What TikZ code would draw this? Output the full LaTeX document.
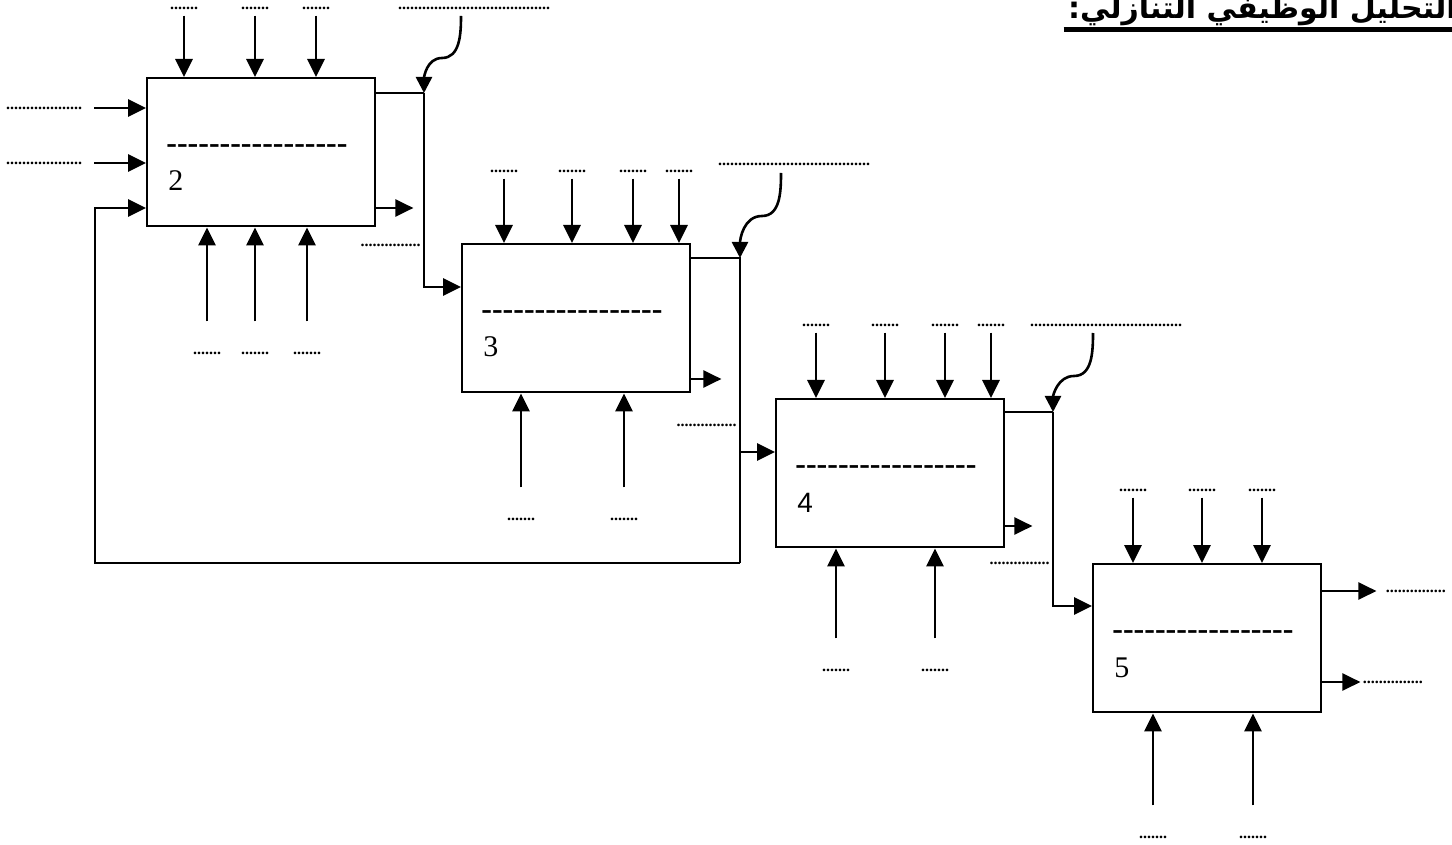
\documentclass[tikz,border=0pt]{standalone}
\usepackage{fontspec}
\setmainfont{Liberation Serif}
\newfontfamily\arabicfont[Script=Arabic]{DejaVu Sans}
\newfontfamily\numsans{Liberation Sans}
\TeXXeTstate=1
\usetikzlibrary{
    arrows.meta,
    positioning,
    calc
}
\tikzset{
  funcbox/.style = {draw, line width=1.2pt, minimum width=114pt,
                    minimum height=74pt, inner sep=0pt, anchor=north west},
  dots/.style    = {inner sep=0pt, font=\fontsize{8}{8}\selectfont\bfseries},
  dashrow/.style = {inner sep=0pt, anchor=west,
                    font=\fontsize{16}{16}\selectfont\bfseries},
  boxnum/.style  = {inner sep=0pt, anchor=base west,
                    font=\fontsize{15}{15}\selectfont},
  titletext/.style = {inner sep=0pt,
                    font=\arabicfont\fontsize{15}{15}\selectfont\bfseries},
  arr/.style     = {-{Triangle[length=9pt,width=8.5pt]}, line width=1.4pt},
  inarr/.style   = {arr, shorten <=3pt},
  uparr/.style   = {arr, shorten <=15pt},
  flow/.style    = {line width=1.1pt},
  curly/.style   = {-{Triangle[length=8pt,width=8pt]}, line width=1.3pt}
}
\newcommand\lbldots[1]{\foreach\k in {1,...,#1}{.}}
\newcommand\boxdashes{\foreach\k in {1,...,17}{-}}

\begin{document}
\begin{tikzpicture}[x=0.5pt, y=-0.5pt]
\useasboundingbox (0,0) rectangle (1452,845);
\clip (0,0) rectangle (1452,845);

% title
\node[titletext, anchor=base east] (ttl) at (1457,19) {\beginR التحليل الوظيفي التنازلي:\endR};
\draw[line width=2.2pt] (ttl.west |- 0,29.5) ++(-4,0) -- (ttl.east |- 0,29.5);

% boxes
\node[funcbox] (b2) at (146,77) {};
\node[funcbox] (b3) at (461,243) {};
\node[funcbox] (b4) at (775,398) {};
\node[funcbox] (b5) at (1092,563) {};
\foreach \b in {2,3,5} {
  \node[dashrow] at ($(b\b.north west)+(20,72)$) {\boxdashes};
  \node[boxnum] at ($(b\b.north west)+(22,114)$) {\b};
}
\node[dashrow] at ($(b4.north west)+(20,72)$) {\boxdashes};
\node[boxnum, font=\fontsize{14}{14}\numsans] at ($(b4.north west)+(22,114)$) {4};

% box 2
\foreach \x [count=\i] in {184,255,316} {
  \node[dots] (t2\i) at (\x,8) {\lbldots{7}};
  \draw[inarr] (t2\i) -- (t2\i |- b2.north);
}
\foreach \x [count=\i] in {207,255,307} {
  \node[dots] (u2\i) at (\x,353) {\lbldots{7}};
  \draw[uparr] (u2\i) -- (u2\i |- b2.south);
}
\foreach \y [count=\i] in {108,163} {
  \node[dots] (l2\i) at (44,\y) {\lbldots{19}};
  \draw[arr, shorten <=6pt] (l2\i) -- (l2\i -| b2.west);
}
\coordinate (j2) at (424,93);
\draw[flow] (b2.east |- j2) -- (j2);
\draw[arr] (j2) |- ($(b3.north west)+(0,44)$);
\draw[arr] ($(b2.north east)+(0,131)$) -- ++(37,0);
\node[dots, anchor=east] (m2) at (421,245) {\lbldots{15}};
\node[dots] (c2) at (474,8) {\lbldots{38}};
\draw[curly] ($(c2)+(-13,8)$) to[out=-90,in=0] ++(-19,42) to[out=180,in=90] (j2);

% box 3
\foreach \x [count=\i] in {504,572,633,679} {
  \node[dots] (t3\i) at (\x,171) {\lbldots{7}};
  \draw[inarr] (t3\i) -- (t3\i |- b3.north);
}
\foreach \x [count=\i] in {521,624} {
  \node[dots] (u3\i) at (\x,519) {\lbldots{7}};
  \draw[uparr] (u3\i) -- (u3\i |- b3.south);
}
\coordinate (j3) at (740,258);
\coordinate (k3) at (740,563);
\draw[flow] (b3.east |- j3) -- (j3) -- (k3);
\draw[arr] (j3 |- 0,452) -- (b4.west |- 0,452);
\draw[arr] ($(b3.north east)+(0,136)$) -- ++(30,0);
\node[dots, anchor=east] (m3) at (737,425) {\lbldots{15}};
\node[dots] (c3) at (794,164) {\lbldots{38}};
\draw[curly] ($(c3)+(-13,9)$) to[out=-90,in=0] ++(-19,43) to[out=180,in=90] (j3);

% feedback to box 2
\draw[arr] (k3) -- (95,563) |- ($(b2.north west)+(0,131)$);

% box 4
\foreach \x [count=\i] in {816,885,945,991} {
  \node[dots] (t4\i) at (\x,325) {\lbldots{7}};
  \draw[inarr] (t4\i) -- (t4\i |- b4.north);
}
\foreach \x [count=\i] in {836,935} {
  \node[dots] (u4\i) at (\x,670) {\lbldots{7}};
  \draw[uparr] (u4\i) -- (u4\i |- b4.south);
}
\coordinate (j4) at (1053,412);
\draw[flow] (b4.east |- j4) -- (j4);
\draw[arr] (j4) |- (b5.west |- 0,606);
\draw[arr] ($(b4.north east)+(0,128)$) -- ++(27,0);
\node[dots, anchor=east] (m4) at (1050,563) {\lbldots{15}};
\node[dots] (c4) at (1106,325) {\lbldots{38}};
\draw[curly] ($(c4)+(-13,8)$) to[out=-90,in=0] ++(-19,43) to[out=180,in=90] (j4);

% box 5
\foreach \x [count=\i] in {1133,1202,1262} {
  \node[dots] (t5\i) at (\x,490) {\lbldots{7}};
  \draw[inarr] (t5\i) -- (t5\i |- b5.north);
}
\foreach \x [count=\i] in {1153,1253} {
  \node[dots] (u5\i) at (\x,837) {\lbldots{7}};
  \draw[uparr] (u5\i) -- (u5\i |- b5.south);
}
\draw[arr] (b5.east |- 0,591) -- ++(54,0) node[dots, right=4pt] (o51) {\lbldots{15}};
\draw[arr] (b5.east |- 0,682) -- ++(38,0) node[dots, right=0.5pt] (o52) {\lbldots{15}};
\end{tikzpicture}
\end{document}
